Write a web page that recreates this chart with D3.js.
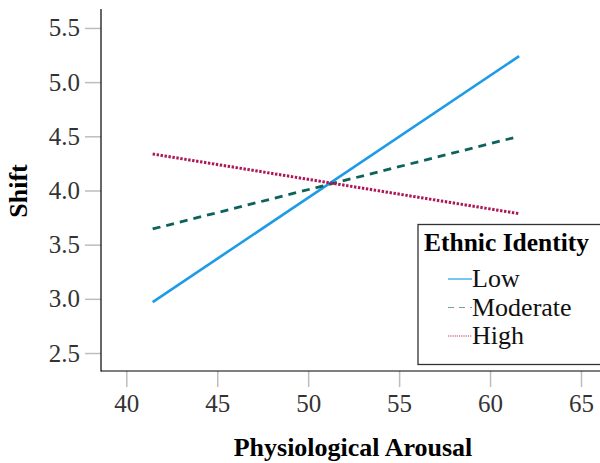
<!DOCTYPE html>
<html lang="en">
<head>
  <meta charset="UTF-8">
  <title>Shift by Physiological Arousal</title>
  <script src="https://d3js.org/d3.v7.min.js"></script>
  <style>
    body { margin: 0; background: #fff; }
    text { font-family: "Liberation Serif", "Times New Roman", serif; }
  </style>
</head>
<body>
  <svg id="chart" width="600" height="463"></svg>
  <script>
    // data
    const arousal = [41.45, 61.6];
    const lowShift = [2.97, 5.24];
    const moderateShift = [3.645, 4.50];
    const highShift = [4.337, 3.786];
    const groups = ['Low', 'Moderate', 'High'];
    const xTicks = [40, 45, 50, 55, 60, 65];
    const yTicks = [2.5, 3.0, 3.5, 4.0, 4.5, 5.0, 5.5];

    const series = [
      { name: 'Low', values: lowShift, color: '#1e9be6', dash: null, width: 2.6 },
      { name: 'Moderate', values: moderateShift, color: '#0d625d', dash: '8,6', width: 2.8 },
      { name: 'High', values: highShift, color: '#ad1659', dash: '2.4,1.6', width: 3 }
    ];

    const svg = d3.select('#chart');
    const plotLeft = 101, plotBottom = 371, plotTop = 9, plotRight = 601;

    const x = d3.scaleLinear().domain([38.61, 66.1]).range([plotLeft, plotRight]);
    const y = d3.scaleLinear().domain([2.334, 5.675]).range([plotBottom, plotTop]);

    // y axis
    const yAxis = svg.append('g')
      .attr('transform', `translate(${plotLeft},0)`)
      .call(d3.axisLeft(y).tickValues(yTicks).tickFormat(d3.format('.1f')).tickSize(16).tickPadding(5));
    yAxis.select('.domain').remove();
    yAxis.selectAll('.tick line').attr('stroke', '#bdbdbd').attr('stroke-width', 1.5);
    yAxis.selectAll('.tick text').attr('font-size', 25).attr('fill', '#333')
      .style('font-family', '"Liberation Serif", serif');

    // x axis
    const xAxis = svg.append('g')
      .attr('transform', `translate(0,${plotBottom})`)
      .call(d3.axisBottom(x).tickValues(xTicks).tickSize(16).tickPadding(7));
    xAxis.select('.domain').remove();
    xAxis.selectAll('.tick line').attr('stroke', '#bdbdbd').attr('stroke-width', 1.5);
    xAxis.selectAll('.tick text').attr('font-size', 25).attr('fill', '#333')
      .style('font-family', '"Liberation Serif", serif');

    // axis lines
    svg.append('line').attr('x1', plotLeft).attr('x2', plotLeft).attr('y1', plotTop).attr('y2', plotBottom + 0.5)
      .attr('stroke', '#000').attr('stroke-width', 1.2);
    svg.append('line').attr('x1', plotLeft).attr('x2', plotRight).attr('y1', plotBottom).attr('y2', plotBottom)
      .attr('stroke', '#000').attr('stroke-width', 1.2);

    // lines
    const line = d3.line().x((d, i) => x(arousal[i])).y(d => y(d));
    series.forEach(s => {
      svg.append('path')
        .datum(s.values)
        .attr('d', line)
        .attr('fill', 'none')
        .attr('stroke', s.color)
        .attr('stroke-width', s.width)
        .attr('stroke-dasharray', s.dash);
    });

    // axis titles
    svg.append('text')
      .attr('x', 353).attr('y', 456)
      .attr('text-anchor', 'middle')
      .attr('font-size', 26).attr('font-weight', 'bold')
      .text('Physiological Arousal');
    svg.append('text')
      .attr('transform', 'translate(27,191) rotate(-90)')
      .attr('text-anchor', 'middle')
      .attr('font-size', 26).attr('font-weight', 'bold')
      .text('Shift');

    // legend
    const legend = svg.append('g');
    legend.append('rect')
      .attr('x', 418).attr('y', 224.5).attr('width', 200).attr('height', 140)
      .attr('fill', '#fff').attr('stroke', '#333').attr('stroke-width', 1.3);
    legend.append('text')
      .attr('x', 424).attr('y', 251)
      .attr('font-size', 25.5).attr('font-weight', 'bold')
      .text('Ethnic Identity');
    const legendDash = { Low: null, Moderate: '6,5', High: '1.2,1' };
    const legendColor = { Low: '#1e9be6', Moderate: '#6fa3a0', High: '#c4306e' };
    groups.forEach((g, i) => {
      const yy = 287 + i * 28.5;
      legend.append('line')
        .attr('x1', 448).attr('x2', 472)
        .attr('y1', yy - 8).attr('y2', yy - 8)
        .attr('stroke', legendColor[g]).attr('stroke-width', 1.2)
        .attr('stroke-dasharray', legendDash[g]);
      legend.append('text')
        .attr('x', 472).attr('y', yy)
        .attr('font-size', 26).attr('fill', '#111')
        .text(g);
    });
  </script>
</body>
</html>
